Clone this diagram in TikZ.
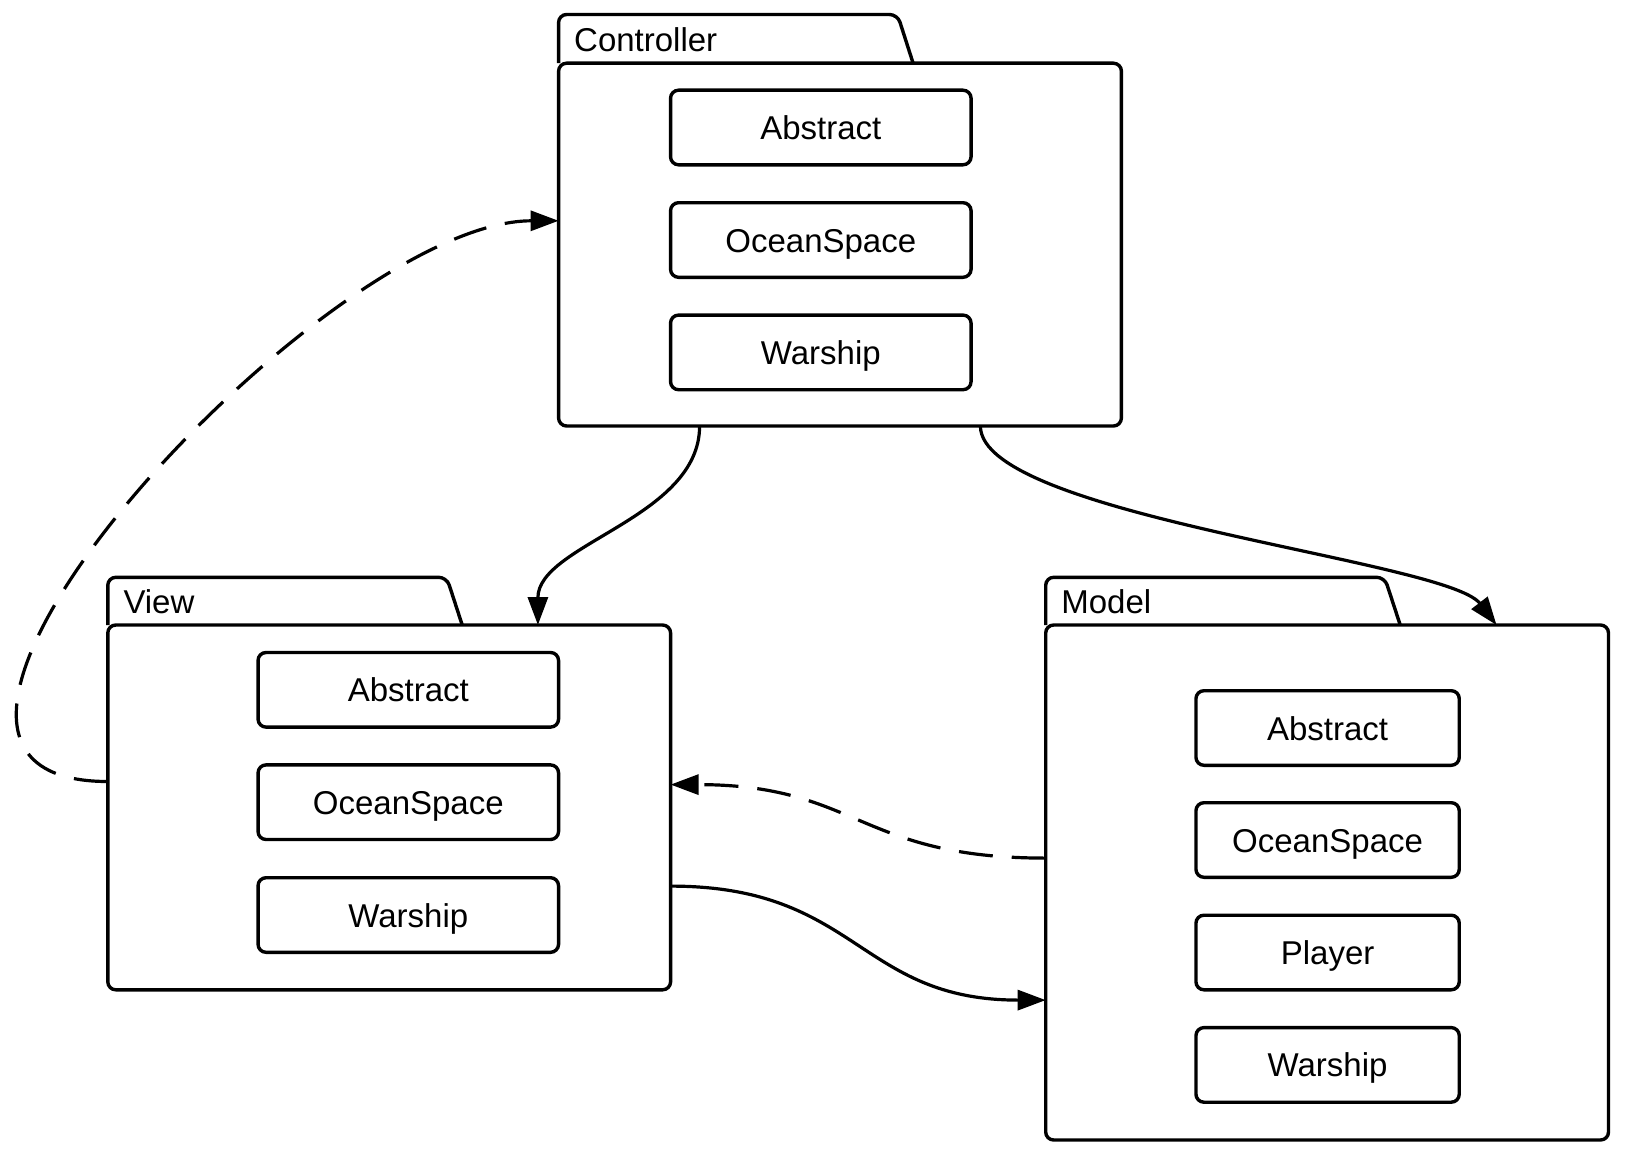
\documentclass[tikz,border=0pt]{standalone}
\usepackage{fontspec}
\setmainfont{Liberation Sans}
\usetikzlibrary{arrows.meta}
\begin{document}
\begin{tikzpicture}[x=1pt,y=-1pt,
  pkgbody/.style={draw, line width=3.4pt, rounded corners=8pt, inner sep=0pt, outer sep=0pt, anchor=north west, minimum width=562.8pt},
  pkgtab/.style={draw, line width=3.4pt, rounded corners=8pt},
  cls/.style={draw, line width=3.4pt, rounded corners=8pt, inner sep=0pt, outer sep=0pt, minimum height=74.6pt, text height=24pt, text depth=0pt, font=\fontsize{33}{40}\selectfont},
  tablabel/.style={anchor=west, inner sep=0pt, font=\fontsize{33}{40}\selectfont},
  conn/.style={line width=3.2pt, -{Triangle[length=28pt,width=20pt]}},
  dconn/.style={conn, dash pattern=on 34pt off 19pt}]
\useasboundingbox (0,0) rectangle (1625,1153);

% Controller package
\draw[pkgtab] (558.6,63.2) -- (558.6,14.5) -- (897.5,14.5) -- (913.1,63.2);
\node[pkgbody, minimum height=362.8pt] (ctrl) at (558.6,63.2) {};
\node[tablabel] (ctrllbl) at (574,39.4) {Controller};
\node[cls, minimum width=300.5pt] (cA) at (820.8,127.5) {Abstract};
\node[cls, minimum width=300.5pt] (cO) at (820.8,240) {OceanSpace};
\node[cls, minimum width=300.5pt] (cW) at (820.8,352.4) {Warship};

% View package
\draw[pkgtab] (107.8,625) -- (107.8,577.3) -- (446.7,577.3) -- (462.2,625);
\node[pkgbody, minimum height=364.8pt] (view) at (107.8,625) {};
\node[tablabel] (viewlbl) at (123.3,602) {View};
\node[cls, minimum width=300.5pt] (vA) at (408.3,689.8) {Abstract};
\node[cls, minimum width=300.5pt] (vO) at (408.3,802.2) {OceanSpace};
\node[cls, minimum width=300.5pt] (vW) at (408.3,915) {Warship};

% Model package
\draw[pkgtab] (1045.7,625) -- (1045.7,577.3) -- (1384.6,577.3) -- (1400.2,625);
\node[pkgbody, minimum height=515pt] (model) at (1045.7,625) {};
\node[tablabel] (modellbl) at (1061.2,602) {Model};
\node[cls, minimum width=263.3pt] (mA) at (1327.6,728) {Abstract};
\node[cls, minimum width=263.3pt] (mO) at (1327.6,840) {OceanSpace};
\node[cls, minimum width=263.3pt] (mP) at (1327.6,952.5) {Player};
\node[cls, minimum width=263.3pt] (mW) at (1327.6,1064.9) {Warship};

% Connectors
\draw[conn] ([xshift=141pt]ctrl.south west) .. controls +(0,92) and +(0,-81) .. ([xshift=430.1pt]view.north west);
\draw[conn] ([xshift=421.8pt]ctrl.south west) .. controls +(0,90) and +(-50,-65) .. ([xshift=450.8pt]model.north west);
\draw[dconn] ([yshift=-156.5pt]view.north west) .. controls +(-300,0) and +(-235,0) .. ([yshift=-157.6pt]ctrl.north west);
\draw[dconn] ([yshift=-233.1pt]model.north west) .. controls +(-187.5,0) and +(187.5,0) .. ([yshift=-159.6pt]view.north east);
\draw[conn] ([yshift=-261.1pt]view.north east) .. controls +(187.5,0) and +(-187.5,0) .. ([yshift=-375.1pt]model.north west);
\end{tikzpicture}
\end{document}
